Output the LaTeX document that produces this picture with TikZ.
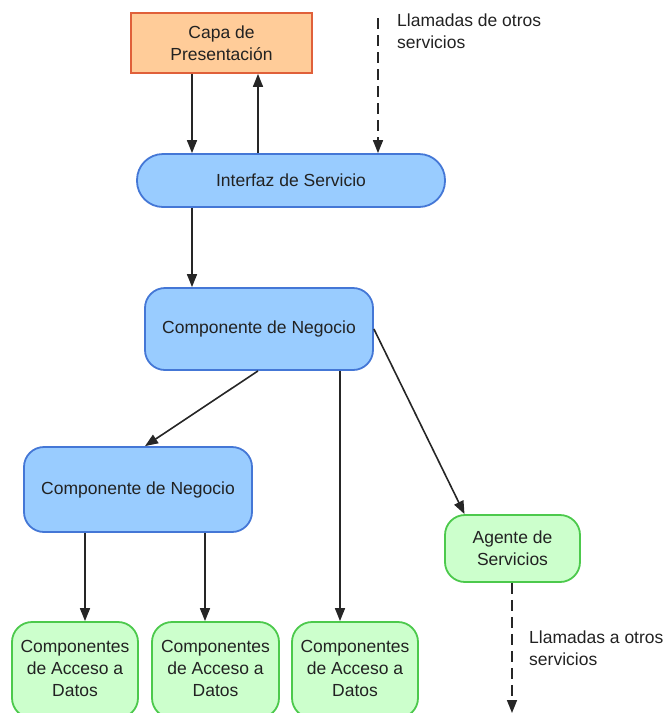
\documentclass[tikz,border=0pt]{standalone}
\usepackage{fontspec}
\setmainfont{Liberation Sans}
\usetikzlibrary{arrows.meta}
\definecolor{orfill}{HTML}{FFCC99}
\definecolor{ordraw}{HTML}{E0603A}
\definecolor{blfill}{HTML}{99CCFF}
\definecolor{bldraw}{HTML}{4477D6}
\definecolor{grfill}{HTML}{CCFFCC}
\definecolor{grdraw}{HTML}{4CC94C}
\definecolor{txt}{HTML}{222222}
\newcommand{\datlabel}{\raisebox{3pt}{\begin{tabular}{@{}c@{}}Componentes\\de Acceso a\\Datos\end{tabular}}}
\begin{document}
\begin{tikzpicture}[x=1pt,y=-1pt,
  font=\fontsize{17.5}{22}\selectfont,
  every node/.style={text=txt, align=center, inner sep=0pt},
  layerbox/.style={draw=ordraw, fill=orfill, line width=1.8pt},
  bluebox/.style={draw=bldraw, fill=blfill, line width=1.8pt, rounded corners=20pt},
  greenbox/.style={draw=grdraw, fill=grfill, line width=1.8pt, rounded corners=20pt},
  arr/.style={line width=1.6pt, draw=black!85, -{Triangle[length=13pt,width=10pt]}},
  dasharr/.style={arr, dash pattern=on 11pt off 6pt},
  note/.style={anchor=north west, align=left}]
\useasboundingbox (0,0) rectangle (668,713);

% boxes
\node[layerbox, minimum width=181pt, minimum height=60pt] (capa) at (221.5,43) {Capa de\\Presentación};
\node[bluebox, rounded corners=26pt, minimum width=308pt, minimum height=53pt] (iface) at (291,180.5) {Interfaz de Servicio};
\node[bluebox, minimum width=228pt, minimum height=82pt] (comp1) at (259,329) {Componente de Negocio};
\node[bluebox, minimum width=228pt, minimum height=85pt] (comp2) at (138,489.5) {Componente de Negocio};
\node[greenbox, minimum width=126pt, minimum height=96pt] (dat1) at (75,670) {\datlabel};
\node[greenbox, minimum width=127pt, minimum height=96pt] (dat2) at (215.5,670) {\datlabel};
\node[greenbox, minimum width=126pt, minimum height=96pt] (dat3) at (355,670) {\datlabel};
\node[greenbox, minimum width=135pt, minimum height=67pt] (agent) at (512.5,548.5) {Agente de\\Servicios};

% free ends of the external calls
\coordinate (extin) at (378,18);
\coordinate (extout) at (512,713);

% connectors
\draw[arr] ([xshift=-29.5pt]capa.south) -- ([xshift=-99pt]iface.north);
\draw[arr] ([xshift=-33pt]iface.north) -- ([xshift=36.5pt]capa.south);
\draw[dasharr] (extin) -- (extin |- iface.north);
\draw[arr] ([xshift=-99pt]iface.south) -- ([xshift=-67pt]comp1.north);
\draw[arr] ([xshift=-1pt]comp1.south) -- ([xshift=7pt]comp2.north);
\draw[arr] ([xshift=81pt]comp1.south) -- ([xshift=-15pt]dat3.north);
\draw[arr] (comp1.east) -- ([xshift=-48pt]agent.north);
\draw[arr] ([xshift=-53pt]comp2.south) -- ([xshift=10pt]dat1.north);
\draw[arr] ([xshift=67pt]comp2.south) -- ([xshift=-10.5pt]dat2.north);
\draw[dasharr] (agent.south -| extout) -- (extout);

% labels of the external calls
\node[note] (lblin) at (397,14) {Llamadas de otros\\servicios};
\node[note] (lblout) at (529,631) {Llamadas a otros\\servicios};
\end{tikzpicture}
\end{document}
